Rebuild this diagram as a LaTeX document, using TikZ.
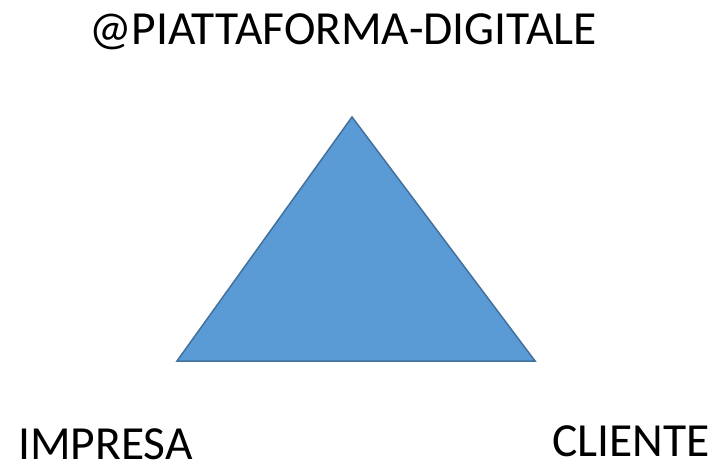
\documentclass[tikz,border=0pt]{standalone}
\usepackage{fontspec}
\setmainfont{Carlito}
\definecolor{fillblue}{HTML}{5B9BD5}
\definecolor{edgeblue}{HTML}{41719C}
\tikzset{label/.style={font=\fontsize{47.5}{57}\selectfont, inner sep=0pt, anchor=base west}}

\begin{document}
\begin{tikzpicture}[x=1pt,y=-1pt]
\useasboundingbox (0,0) rectangle (715,463);
% triangle
\draw [fill=fillblue, draw=edgeblue, line width=1.5pt, line join=miter] (352,117) -- (535,361) -- (177,361) -- cycle;
% labels
\node[label] (platform) at (89,44) {@PIATTAFORMA-DIGITALE};
\node[label] (firm) at (18,459) {IMPRESA};
\node[label] (client) at (552,456) {CLIENTE};
\end{tikzpicture}
\end{document}
